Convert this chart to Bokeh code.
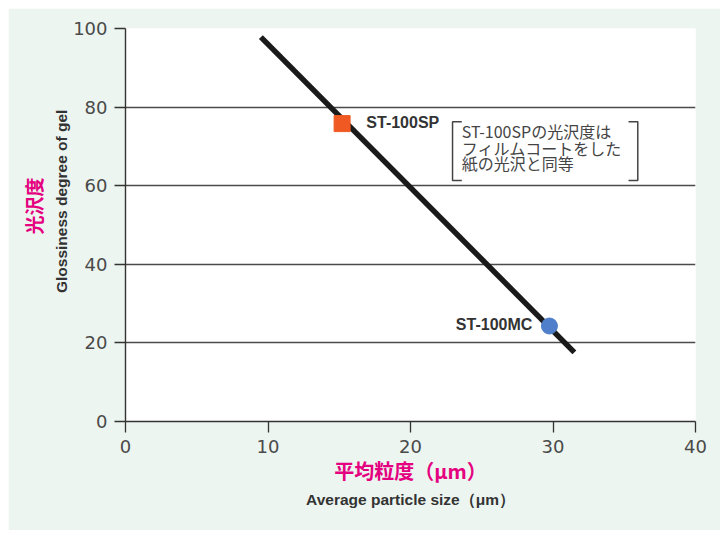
from bokeh.plotting import figure
from bokeh.models import LinearAxis, FixedTicker
from bokeh.core.properties import value
from bokeh.embed import file_html
from bokeh.resources import INLINE

# ---- data ----
trend_x = [9.5, 31.5]
trend_y = [97.8, 17.6]
sp_x = [15.2]
sp_y = [75.8]
mc_x = [29.75]
mc_y = [24.3]
x_ticks = [0, 10, 20, 30, 40]
y_ticks = [0, 20, 40, 60, 80, 100]
sp_name = "ST-100SP"
mc_name = "ST-100MC"
note_lines = ["ST-100SPの光沢度は", "フィルムコートをした", "紙の光沢と同等"]
note_y = [73.9, 69.6, 65.8]
note_x = 23.6
bracket_left_x = [23.6, 22.95, 22.95, 23.6]
bracket_right_x = [35.3, 35.95, 35.95, 35.3]
bracket_y = [76.3, 76.3, 61.3, 61.3]
y_title_ja = "光沢度"
y_title_en = "Glossiness degree of gel"
x_title_ja = "平均粒度（μm）"
x_title_en = "Average particle size（μm）"

MAGENTA = "#e4007f"
TICK_FONT = "DejaVu Sans"
CJK = "Noto Sans CJK JP"
LAT = "Liberation Sans"

# leading non-breaking padding lifts the rotated titles slightly above centre
PAD_EN = "\u00a0" * 11
PAD_JA = "\u3000" * 2

p = figure(width=712, height=522, x_range=(0, 40), y_range=(0, 100),
           output_backend="svg", toolbar_location=None,
           min_border_left=117, min_border_right=25,
           min_border_top=20, min_border_bottom=109)
p.margin = (8, 0, 0, 8)
p.background_fill_color = "white"
p.border_fill_color = "#edf5f0"
p.outline_line_color = None

# grid
p.xgrid.grid_line_color = None
p.ygrid.ticker = FixedTicker(ticks=y_ticks)
p.ygrid.grid_line_color = "#4a4a4a"
p.ygrid.grid_line_width = 1.4

# axes
for ax in (p.xaxis[0], p.yaxis[0]):
    ax.axis_line_color = "#333333"
    ax.axis_line_width = 1.4
    ax.major_tick_line_color = "#333333"
    ax.major_tick_line_width = 1.3
    ax.minor_tick_line_color = None
    ax.major_tick_in = 0
    ax.major_tick_out = 11
    ax.major_label_text_font = TICK_FONT
    ax.major_label_text_font_size = "18px"
    ax.major_label_text_color = "#4a4a4a"

p.xaxis[0].ticker = FixedTicker(ticks=x_ticks)
p.yaxis[0].ticker = FixedTicker(ticks=y_ticks)
p.xaxis[0].major_label_standoff = 7
p.yaxis[0].major_label_standoff = 7

p.xaxis[0].axis_label = x_title_ja
p.xaxis[0].axis_label_text_font = CJK
p.xaxis[0].axis_label_text_font_style = "bold"
p.xaxis[0].axis_label_text_font_size = "20px"
p.xaxis[0].axis_label_text_color = MAGENTA
p.xaxis[0].axis_label_standoff = 0


def title_axis(label, font, size, color, standoff):
    return LinearAxis(ticker=FixedTicker(ticks=[]), axis_line_color=None,
                      major_tick_line_color=None, minor_tick_line_color=None,
                      major_label_text_font_size="0px",
                      axis_label=label, axis_label_text_font=font,
                      axis_label_text_font_size=size,
                      axis_label_text_color=color,
                      axis_label_text_font_style="bold",
                      axis_label_standoff=standoff)


p.add_layout(title_axis(PAD_EN + y_title_en, LAT, "15.5px", "#333333", 1), "left")
p.add_layout(title_axis(PAD_JA + y_title_ja, CJK, "19px", MAGENTA, 3), "left")
p.add_layout(title_axis(x_title_en, LAT, "15.5px", "#333333", 3), "below")

# data marks
p.line(trend_x, trend_y, line_color="#1a1a1a", line_width=5.5)
p.scatter(sp_x, sp_y, marker="square", size=16, fill_color="#f05a22",
          line_color="#f05a22")
p.scatter(mc_x, mc_y, marker="circle", size=16, fill_color="#4f7fcb",
          line_color="#4f7fcb")

# point labels
p.text(x=[sp_x[0] + 1.7], y=[sp_y[0] + 0.2], text=[sp_name],
       text_font=value(LAT), text_font_style="bold",
       text_font_size="16px", text_color="#333333",
       text_baseline="middle", text_align="left")
p.text(x=[mc_x[0] - 1.2], y=[mc_y[0] + 0.3], text=[mc_name],
       text_font=value(LAT), text_font_style="bold",
       text_font_size="16px", text_color="#333333",
       text_baseline="middle", text_align="right")

# note with brackets
p.text(x=[note_x] * len(note_lines), y=note_y, text=note_lines,
       text_font=value(CJK), text_font_size="16px", text_color="#444444",
       text_baseline="middle", text_align="left")
p.line(bracket_left_x, bracket_y, line_color="#444444", line_width=1.5)
p.line(bracket_right_x, bracket_y, line_color="#444444", line_width=1.5)

open("out.html", "w").write(file_html(p, INLINE))
